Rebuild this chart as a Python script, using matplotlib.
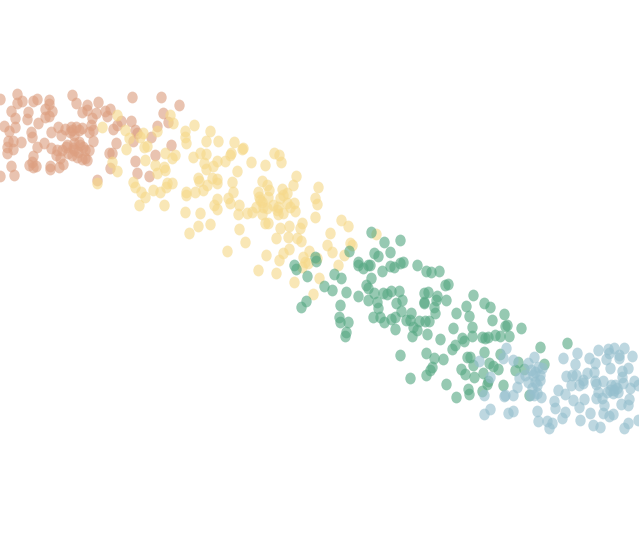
import matplotlib
matplotlib.use("Agg")

import matplotlib.pyplot as plt
from matplotlib.path import Path
from matplotlib.transforms import Affine2D

# values, (x, y) with y growing downwards
orange = [(0,99),(17,94),(17,103),(22,101),(33,101),(37,99),(49,100),(49,104),(11,111),(28,112),(45,109),(52,111),
          (15,118),(27,119),(45,117),(49,116),(38,123),(4,126),(9,131),(15,127),(31,132),(32,137),(58,127),(51,132),
          (61,135),(65,129),(72,95),(76,103),(87,105),(98,102),(82,112),(87,110),(96,113),(105,111),(110,109),(107,116),
          (92,118),(91,125),(93,130),(71,127),(76,127),(79,130),(70,132),(74,135),(89,132),(93,141),(8,141),(13,141),
          (21,142),(7,147),(13,149),(7,153),(44,143),(37,147),(51,148),(57,150),(56,155),(67,145),(74,143),(80,145),
          (68,153),(73,148),(78,152),(83,147),(89,150),(77,157),(82,159),(87,160),(33,156),(32,162),(29,165),(33,167),
          (36,166),(11,166),(14,175),(50,166),(50,169),(59,167),(63,164),(121,121),(117,125),(113,129),(131,121),(135,130),
          (137,133),(133,141),(116,143),(109,153),(112,153),(135,161),(110,168),(137,173),(149,176),(97,180),(151,137),
          (157,126),(155,155),(171,145),(161,97),(132,97),(179,105),(163,113),(168,122),(0,176),(62,150),(66,147),(72,155),
          (85,150),(60,158),(79,142),(85,158),(74,150),(82,128),(72,130)]

yellow = [(170,115),(173,123),(194,125),(185,131),(185,137),(186,143),(210,131),(206,141),(218,141),(234,142),(242,149),
          (243,148),(126,149),(125,130),(143,133),(140,137),(157,131),(144,147),(147,146),(165,153),(175,155),(172,158),
          (145,160),(155,165),(164,167),(157,173),(165,170),(193,157),(200,153),(206,154),(204,163),(206,169),(213,166),
          (217,161),(225,161),(230,155),(231,153),(251,162),(265,165),(274,153),(279,155),(281,162),(237,171),(296,176),
          (293,185),(318,187),(315,198),(317,204),(315,217),(341,220),(348,226),(330,233),(327,245),(332,252),(350,243),
          (352,245),(344,255),(338,265),(133,182),(135,187),(141,192),(145,197),(139,205),(164,205),(153,190),(160,192),
          (166,187),(167,183),(172,183),(198,178),(199,181),(212,178),(217,179),(217,183),(207,185),(203,190),(195,192),
          (186,192),(186,195),(232,182),(233,192),(228,198),(230,203),(217,199),(214,205),(217,209),(239,205),(238,214),
          (247,213),(252,212),(256,207),(262,181),(267,185),(269,190),(258,192),(259,197),(262,202),(263,207),(267,208),
          (262,214),(273,205),(278,207),(282,189),(287,193),(280,198),(287,203),(294,203),(295,211),(283,213),(277,210),
          (265,223),(268,223),(185,212),(200,213),(198,226),(210,224),(189,233),(239,229),(245,242),(227,251),(266,255),
          (280,228),(276,238),(288,237),(289,226),(297,238),(301,241),(302,223),(300,228),(289,249),(283,253),(279,260),
          (258,270),(276,273),(294,282),(313,294),(319,278),(303,257),(309,251),(302,267),(308,263),(317,258),(102,127),
          (117,115),(129,138),(112,162),(117,171),(97,183),(376,234),(305,262),(260,200),(268,197),(283,195),(290,207),
          (278,214)]

green = [(371,232),(384,242),(400,240),(390,252),(374,253),(378,256),(349,251),(315,257),(316,261),(294,265),(296,269),
         (307,276),(334,274),(341,278),(324,286),(332,290),(346,292),(358,296),(306,301),(301,307),(340,305),(339,317),
         (340,322),(348,322),(346,332),(345,336),(358,262),(358,265),(363,268),(368,265),(370,265),(382,271),(390,266),
         (394,267),(400,263),(403,262),(417,265),(426,271),(431,272),(439,271),(371,278),(366,285),(368,288),(374,293),
         (383,293),(387,294),(391,291),(399,291),(402,300),(396,303),(401,311),(368,300),(377,302),(378,308),(373,317),
         (380,317),(384,322),(391,319),(395,317),(395,329),(406,320),(411,313),(410,320),(413,327),(417,330),(412,336),
         (419,321),(425,321),(429,321),(427,334),(435,313),(434,307),(424,303),(424,302),(424,293),(428,292),(437,296),
         (436,300),(446,300),(445,285),(448,284),(456,313),(466,306),(469,316),(473,295),(484,303),(490,307),(504,314),
         (492,320),(472,327),(453,328),(472,336),(440,339),(464,341),(462,338),(455,345),(452,349),(400,355),(426,353),
         (434,358),(443,359),(432,367),(430,370),(426,375),(410,378),(446,384),(456,397),(468,389),(469,394),(482,391),
         (487,384),(488,381),(503,385),(529,395),(461,369),(465,374),(474,377),(483,373),(484,352),(467,357),(470,357),
         (473,365),(489,363),(493,366),(498,369),(515,370),(524,369),(540,347),(544,364),(518,362),(500,354),(521,328),
         (509,336),(505,326),(507,325),(500,336),(495,335),(488,337),(482,337),(485,338),(567,343)]

blue = [(506,348),(503,358),(479,361),(490,377),(484,395),(505,395),(513,395),(517,387),(484,414),(490,409),(508,413),
        (513,411),(534,357),(528,363),(538,367),(535,372),(542,368),(528,382),(535,382),(540,380),(532,388),(537,393),
        (541,397),(537,411),(538,421),(547,421),(552,423),(549,428),(555,408),(554,401),(558,390),(565,394),(573,400),
        (579,407),(584,399),(565,412),(562,418),(580,420),(590,413),(593,425),(600,427),(603,413),(609,416),(613,414),
        (624,428),(628,423),(638,420),(563,358),(577,353),(575,364),(566,376),(572,375),(576,375),(571,385),(579,385),
        (583,380),(583,383),(587,373),(594,372),(595,363),(589,358),(598,350),(608,349),(609,353),(614,348),(624,348),
        (632,356),(619,355),(619,358),(606,359),(610,368),(628,368),(622,371),(622,377),(603,381),(595,381),(596,384),
        (598,392),(596,398),(602,398),(604,405),(611,385),(617,388),(613,393),(607,392),(623,383),(630,388),(634,381),
        (638,385),(629,399),(621,404),(628,405),(614,390),(513,360),(525,375),(531,370),(519,378),(534,395),(504,396),
        (533,375),(537,385),(540,375),(530,395),(615,385),(618,392),(610,390)]

groups = [(orange, "#dd9f80"), (yellow, "#f6d98a"), (green, "#56a883"), (blue, "#95bfce")]

# the dots are a little taller than wide
dot = Path.unit_circle().transformed(Affine2D().scale(0.88, 1))

fig = plt.figure(figsize=(6.39, 5.51), dpi=100)
ax = fig.add_axes([0, 0, 1, 1])

for pts, colour in groups:
    xs = [p[0] for p in pts]
    ys = [p[1] for p in pts]
    ax.scatter(xs, ys, s=72, marker=dot, color=colour, alpha=0.62, linewidths=0)

ax.set_xlim(0, 639)
ax.set_ylim(551, 0)
ax.axis("off")

fig.savefig("out.png", dpi=100)
plt.close(fig)
